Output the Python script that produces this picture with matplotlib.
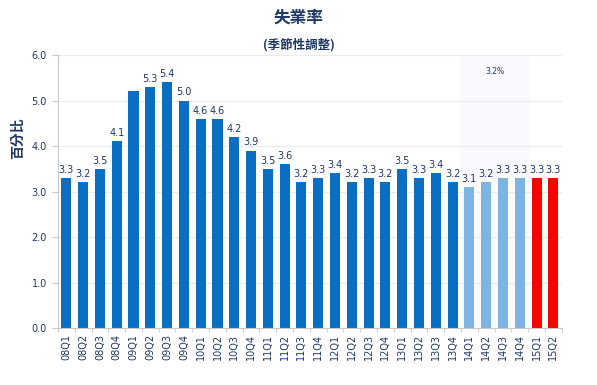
import matplotlib
matplotlib.use("Agg")
import matplotlib.pyplot as plt
import numpy as np

plt.rcParams['font.family'] = ['Noto Sans CJK TC', 'DejaVu Sans']

categories = ["08Q1","08Q2","08Q3","08Q4","09Q1","09Q2","09Q3","09Q4",
              "10Q1","10Q2","10Q3","10Q4","11Q1","11Q2","11Q3","11Q4",
              "12Q1","12Q2","12Q3","12Q4","13Q1","13Q2","13Q3","13Q4",
              "14Q1","14Q2","14Q3","14Q4","15Q1","15Q2"]
values = [3.3,3.2,3.5,4.1,5.2,5.3,5.4,5.0,4.6,4.6,4.2,3.9,3.5,3.6,3.2,3.3,
          3.4,3.2,3.3,3.2,3.5,3.3,3.4,3.2,3.1,3.2,3.3,3.3,3.3,3.3]
show_label = [True]*30
show_label[4] = False
band_text = "3.2%"

navy = "#1F3864"
colors = []
for c in categories:
    if c.startswith("14"):
        colors.append("#7FB3E3")
    elif c.startswith("15"):
        colors.append("#FF0000")
    else:
        colors.append("#0A6FC2")

fig = plt.figure(figsize=(5.97, 3.85), dpi=100)
ax = fig.add_axes([0.097, 0.148, 0.844, 0.709])
x = np.arange(len(categories))
ax.axvspan(23.5, 27.5, color="#FAF9FE", zorder=0)
ax.bar(x, values, width=0.6, color=colors, zorder=2, edgecolor="none")
for xi, v, s in zip(x, values, show_label):
    if s:
        ax.text(xi, v + 0.07, f"{v:.1f}", ha="center", va="bottom", fontsize=7, color=navy,
                family="DejaVu Sans")
ax.text(25.5, 5.63, band_text, ha="center", va="center", fontsize=5.5, color=navy, family="DejaVu Sans")

ax.set_xlim(-0.5, 29.5)
ax.set_ylim(0, 6)
ax.set_yticks(np.arange(0, 6.01, 1.0))
ax.set_yticklabels([f"{t:.1f}" for t in np.arange(0, 6.01, 1.0)], color=navy, fontsize=7, family="DejaVu Sans")
ax.set_xticks(x)
ax.set_xticklabels(categories, rotation=90, color=navy, fontsize=7, family="DejaVu Sans")
ax.set_xticks(np.arange(-0.5, 30, 1), minor=True)
ax.tick_params(axis='x', which='major', length=0, pad=4)
ax.tick_params(axis='x', which='minor', length=3, color="#C8C8C8")
ax.tick_params(axis='y', length=4, color="#C8C8C8", pad=4)
ax.grid(axis='y', color="#EBEBEB", linewidth=0.8, zorder=1)
ax.set_axisbelow(True)
for sp in ["top", "right"]:
    ax.spines[sp].set_visible(False)
ax.spines["left"].set_color("#C8C8C8")
ax.spines["bottom"].set_color("#C8C8C8")

fig.text(0.5, 0.953, "失業率", ha="center", va="center", fontsize=12, fontweight="bold", color=navy)
fig.text(0.5, 0.883, "(季節性調整)", ha="center", va="center", fontsize=9, fontweight="bold", color=navy)
fig.text(0.03, 0.64, "百分比", ha="center", va="center", rotation=90, fontsize=10, fontweight="bold", color=navy)

fig.savefig("out.png", dpi=100, facecolor="white")
